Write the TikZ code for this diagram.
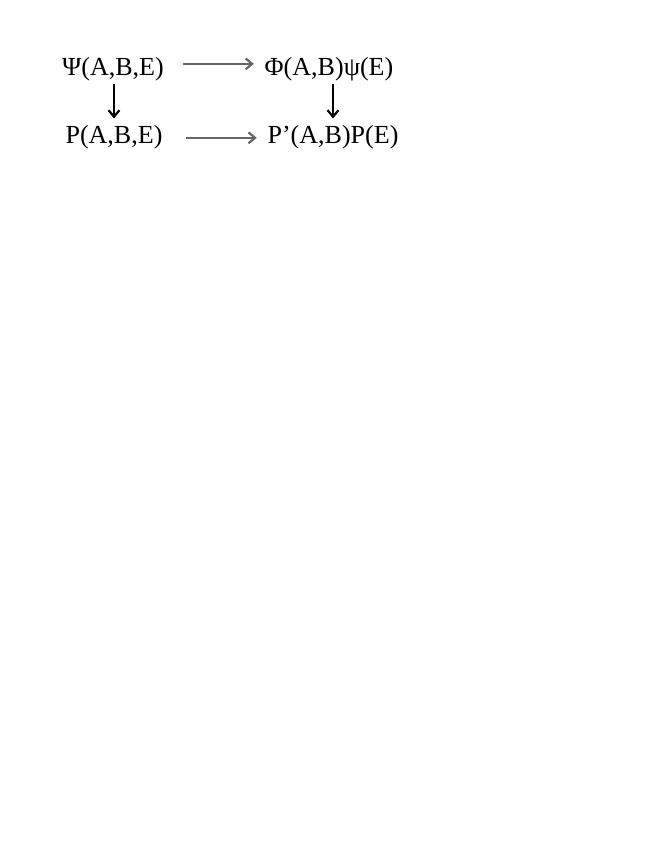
\documentclass[tikz,border=0pt]{standalone}
\usepackage{fontspec}
\setmainfont{Liberation Serif}
\usetikzlibrary{positioning,arrows.meta}

\begin{document}
\begin{tikzpicture}[x=0.9217pt,y=-0.9217pt,>={Straight Barb[length=6pt,width=10pt]},line width=2pt,
		term/.style={font=\fontsize{24}{28}\selectfont,anchor=base,inner sep=2pt},
		map/.style={->,gray!80!black},
		down/.style={->,black}]
		\useasboundingbox (0,0) rectangle (664,860);
		\node[term] (Psi)    at (113,75)  {Ψ(A,B,E)};
		\node[term] (PhiPsi) at (329,75)  {Φ(A,B)ψ(E)};
		\node[term] (P)      at (114,143) {P(A,B,E)};
		\node[term] (PpP)    at (333,143) {P’(A,B)P(E)};
		
		\draw[map, shorten <=15pt, shorten >=7pt] ([yshift=4.5pt]Psi.east) -- ([yshift=4.5pt]PhiPsi.west);
		\draw[map, shorten <=19pt, shorten >=7pt] ([yshift=-1pt]P.east) -- ([yshift=-1pt]PpP.west);
		\draw[down, shorten >=3pt] (P |- Psi.south) -- (P);
		\draw[down, shorten >=3pt] (PpP |- PhiPsi.south) -- (PpP);
	\end{tikzpicture}
\end{document}
